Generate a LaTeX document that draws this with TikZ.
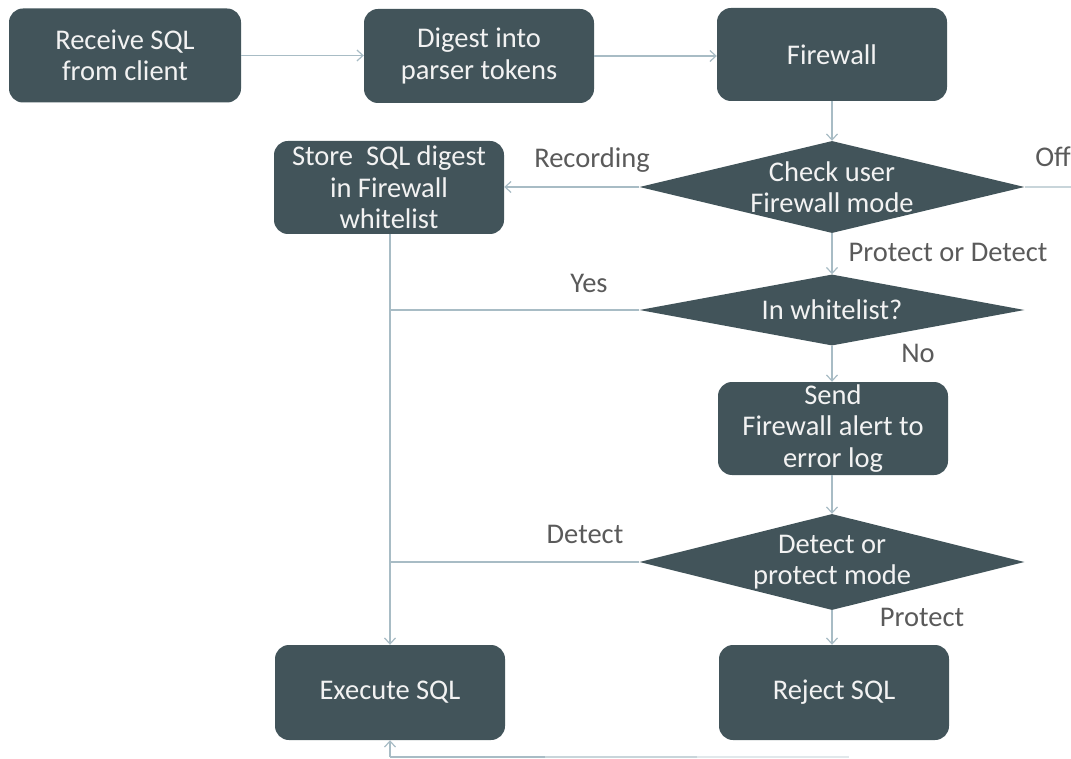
\documentclass[tikz,border=0pt]{standalone}
\usepackage{fontspec}
\setmainfont{Carlito}
\usetikzlibrary{shapes.geometric,arrows.meta}
\definecolor{boxfill}{HTML}{42545A}
\definecolor{conn}{HTML}{A8BCC5}
\definecolor{connB}{HTML}{C8D5DA}
\definecolor{connC}{HTML}{E1E8EB}
\definecolor{lbl}{HTML}{5A5A5A}
\definecolor{boxtxt}{HTML}{F2F2F2}
\tikzset{
  txt/.style={font=\fontsize{28.5}{31.5}\selectfont},
  procbox/.style={txt, draw=none, fill=boxfill, text=boxtxt, rounded corners=14pt,
    minimum width=230pt, minimum height=94pt, inner sep=0pt, align=center},
  decision/.style={diamond, fill=boxfill, minimum width=385pt, inner sep=0pt, draw=none},
  dtext/.style={txt, text=boxtxt, align=center},
  conline/.style={draw=conn, line width=1.4pt},
  arr/.style={conline, -{Straight Barb[length=6pt,width=11pt,line width=1.2pt]}},
  lab/.style={txt, text=lbl}
}
\begin{document}
\begin{tikzpicture}[x=1pt,y=-1pt]
\useasboundingbox (0,0) rectangle (1071,759);

\node[procbox, minimum width=232pt] (recv) at (125,55.5) {Receive SQL\\from client};
\node[procbox] (digest) at (479,56) {Digest into\\parser tokens};
\node[procbox, minimum height=93pt] (fw) at (832,54.5) {Firewall};
\node[procbox, minimum height=93pt] (store) at (389,187.5) {Store\ \ SQL digest\\in Firewall\\whitelist};
\node[decision, minimum height=92pt] (check) at (832,187) {};
\node[dtext] at (check.center) {Check user\\Firewall mode};
\node[decision, minimum height=71pt] (wl) at (832,310) {};
\node[dtext] at (wl.center) {In whitelist?};
\node[procbox, minimum height=93pt] (send) at (833,428.5) {Send\\Firewall alert to\\error log};
\node[decision, minimum height=96pt] (mode) at (832,562) {};
\node[dtext] at (mode.center) {Detect or\\protect mode};
\node[procbox, minimum height=95pt] (exec) at (390,692.5) {Execute SQL};
\node[procbox, minimum height=95pt] (reject) at (834,692.5) {Reject SQL};

\coordinate (offR) at (1071,187);
\coordinate (b1) at (849,757);
\coordinate (b2) at (697,757);
\coordinate (b3) at (545,757);
\coordinate (b4) at (390,757);

% connectors
\draw[arr] (recv.east) -- (digest.west |- recv.east);
\draw[arr] (digest.east) -- (fw.west |- digest.east);
\draw[arr] (fw.south) -- (check.north);
\draw[arr] (check.west) -- (store.east |- check.west);
\draw[conline, draw=connB] (check.east) -- (offR);
\draw[arr] (check.south) -- (wl.north);
\draw[arr] (wl.south) -- (wl.south |- send.north);
\draw[arr] (send.south -| mode.north) -- (mode.north);
\draw[arr] (mode.south) -- (mode.south |- reject.north);
\draw[arr] (store.south -| exec.north) -- (exec.north);
\draw[conline] (wl.west) -- (wl.west -| exec.north);
\draw[conline] (mode.west) -- (mode.west -| exec.north);
\draw[conline, draw=connC] (b1) -- (b2);
\draw[conline, draw=connB] (b2) -- (b3);
\draw[conline] (b3) -- (b4);
\draw[arr] (b4) -- (exec.south);

% labels
\node[lab] (lrec) at (592,160) {Recording};
\node[lab] (loff) at (1053,157) {Off};
\node[lab] (lpod) at (948,252) {Protect or Detect};
\node[lab] (lyes) at (589,283) {Yes};
\node[lab] (lno) at (918,353) {No};
\node[lab] (ldet) at (585,534) {Detect};
\node[lab] (lpro) at (922,617) {Protect};
\end{tikzpicture}
\end{document}
